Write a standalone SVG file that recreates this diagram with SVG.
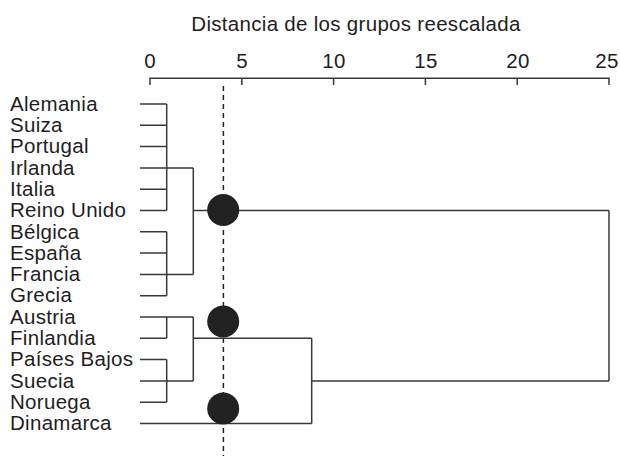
<svg xmlns="http://www.w3.org/2000/svg" width="620" height="463" viewBox="0 0 620 463">
<style>
text{font-family:"Liberation Sans",Arial,sans-serif;font-size:20.5px;letter-spacing:0.3px;fill:#1e1e1e}
.t{text-anchor:middle}
.ln{fill:none;stroke:#383838;stroke-width:1.5}
.ax{fill:none;stroke:#383838;stroke-width:1.5}
.dash{fill:none;stroke:#222;stroke-width:1.5;stroke-dasharray:5 4}
.dot{fill:#222}
</style>
<rect width="620" height="463" fill="#fff"/>
<g id="title"><text class="t" x="356" y="31">Distancia de los grupos reescalada</text></g>
<g id="axis">
<path class="ax" d="M150 85V78.3H609V85M241.8 78.3V85M333.6 78.3V85M425.4 78.3V85M517.2 78.3V85"/>
<text class="t" x="150" y="68">0</text>
<text class="t" x="242" y="68">5</text>
<text class="t" x="334" y="68">10</text>
<text class="t" x="426" y="68">15</text>
<text class="t" x="518" y="68">20</text>
<text class="t" x="607" y="68">25</text>
</g>
<g id="cutline"><path class="dash" d="M223.4 86V456"/></g>
<g id="labels">
<g id="n-alemania"><text x="10" y="110.7">Alemania</text></g>
<g id="n-suiza"><text x="10" y="132">Suiza</text></g>
<g id="n-portugal"><text x="10" y="153.3">Portugal</text></g>
<g id="n-irlanda"><text x="10" y="174.6">Irlanda</text></g>
<g id="n-italia"><text x="10" y="195.9">Italia</text></g>
<g id="n-reinounido"><text x="10" y="217.2">Reino Unido</text></g>
<g id="n-belgica"><text x="10" y="238.5">Bélgica</text></g>
<g id="n-espana"><text x="10" y="259.8">España</text></g>
<g id="n-francia"><text x="10" y="281.1">Francia</text></g>
<g id="n-grecia"><text x="10" y="302.4">Grecia</text></g>
<g id="n-austria"><text x="10" y="323.7">Austria</text></g>
<g id="n-finlandia"><text x="10" y="345">Finlandia</text></g>
<g id="n-paisesbajos"><text x="10" y="366.3">Países Bajos</text></g>
<g id="n-suecia"><text x="10" y="387.6">Suecia</text></g>
<g id="n-noruega"><text x="10" y="408.9">Noruega</text></g>
<g id="n-dinamarca"><text x="10" y="430.2">Dinamarca</text></g>
</g>
<g id="connectors">
<path class="ln" d="M140 104H166.7M140 125.3H166.7M140 146.6H166.7M140 167.9H193.3M140 189.2H166.7M140 210.5H166.7M166.7 104V210.5"/>
<path class="ln" d="M140 231.8H166.7M140 253.1H166.7M140 274.4H193.3M140 295.7H166.7M166.7 231.8V295.7"/>
<path class="ln" d="M193.3 167.9V274.4M193.3 210.5H609"/>
<path class="ln" d="M140 317H193.3M140 338.3H166.7M166.7 317V338.3"/>
<path class="ln" d="M140 359.6H166.7M140 380.9H193.3M140 402.2H166.7M166.7 359.6V402.2"/>
<path class="ln" d="M193.3 317V380.9M193.3 338.3H311.7"/>
<path class="ln" d="M140 423.5H311.7M311.7 338.3V423.5M311.7 380.9H609M609 210.5V380.9"/>
</g>
<g id="markers">
<circle id="m1" class="dot" cx="223.2" cy="210" r="16"/>
<circle id="m2" class="dot" cx="223.2" cy="321.5" r="16"/>
<circle id="m3" class="dot" cx="223.2" cy="408.5" r="16"/>
</g>
</svg>
